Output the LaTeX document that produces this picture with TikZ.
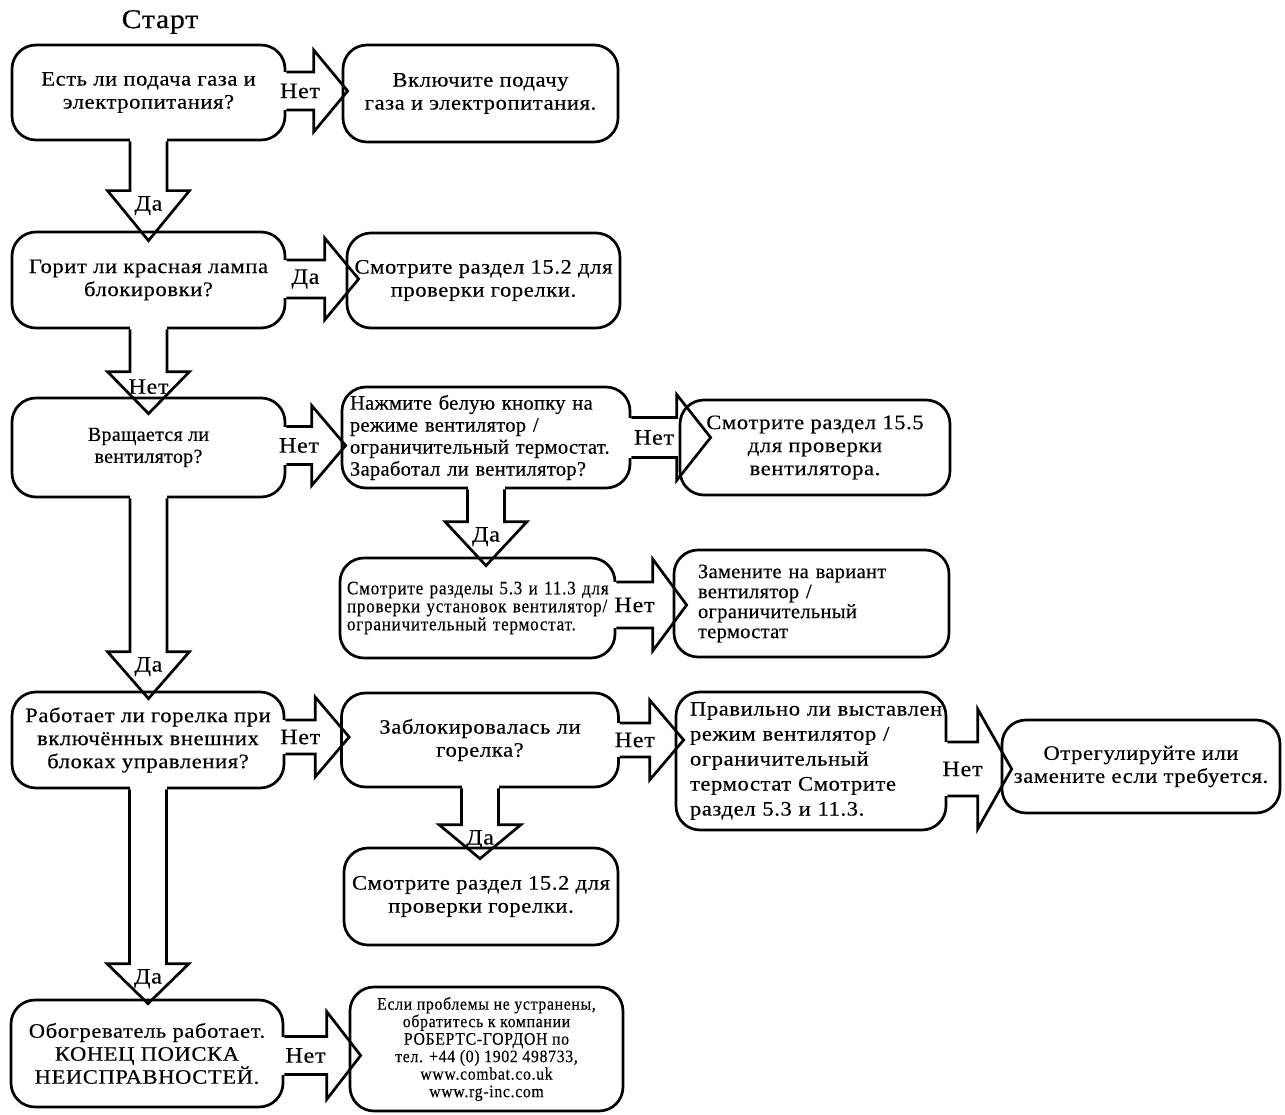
\documentclass[tikz,border=0pt]{standalone}
\usepackage{fontspec}
\setmainfont{Liberation Serif}[FakeStretch=1.1, LetterSpace=3, FakeBold=0.4]
\newfontfamily\semiser{Liberation Serif}[LetterSpace=1.5, FakeBold=0.4]
\newfontfamily\condser{Liberation Serif}[FakeStretch=0.9, LetterSpace=4, FakeBold=0.3]
\usetikzlibrary{calc}

% block arrow to the right: from, to, tip overshoot, y offset, shaft half width, head half width, label
\newcommand{\harrow}[7]{%
  \coordinate (hs) at ($(#1.east)+(0,#4)$);
  \coordinate (hx) at (#2.west |- hs);
  \coordinate (ht) at ($(hx)+(#3,0)$);
  \coordinate (hb) at ($(ht)+(-34,0)$);
  \fill[white] ($(hs)+(-3,-#5)$) rectangle ($(hb)+(0,#5)$);
  \draw[arrline] ($(hs)+(0,-#5)$) -- ($(hb)+(0,-#5)$) -- ($(hb)+(0,-#6)$) -- (ht)
    -- ($(hb)+(0,#6)$) -- ($(hb)+(0,#5)$) -- ($(hs)+(0,#5)$);
  \node[lab] at ($(hs)!0.5!(hb)$) {#7};
}
% block arrow downwards: from, to, tip overshoot, head length, label
\newcommand{\varrow}[5]{%
  \coordinate (vs) at (#1.south);
  \coordinate (vx) at (vs |- #2.north);
  \coordinate (vt) at ($(vx)+(0,#3)$);
  \coordinate (vb) at ($(vt)+(0,-#4)$);
  \fill[white] ($(vs)+(-18.5,-3)$) rectangle ($(vb)+(18.5,0)$);
  \draw[arrline] ($(vs)+(-18.5,0)$) -- ($(vb)+(-18.5,0)$) -- ($(vb)+(-41,0)$) -- (vt)
    -- ($(vb)+(41,0)$) -- ($(vb)+(18.5,0)$) -- ($(vs)+(18.5,0)$);
  \node[lab] at ($(vb)+(0,15)$) {#5};
}

\begin{document}
\begin{tikzpicture}[x=1pt, y=-1pt,
  box/.style={draw, line width=2.7pt, rounded corners=24pt, inner sep=0pt, align=center,
    font=\fontsize{20.5}{23}\selectfont},
  lbox/.style={box, align=left},
  arrline/.style={line width=2.7pt},
  lab/.style={inner sep=0pt, font=\fontsize{22}{24}\selectfont}]
  \useasboundingbox (0,0) rectangle (1285,1115);

  \node[font=\fontsize{27}{30}\selectfont] (start) at (160,22) {Старт};

  % left column
  \node[box, minimum width=273pt, minimum height=95pt] (q1) at (148.5,92.5) {Есть ли подача газа и\\электропитания?};
  \node[box, minimum width=273pt, minimum height=96pt] (q2) at (148.5,280) {Горит ли красная лампа\\блокировки?};
  \node[box, minimum width=273pt, minimum height=99pt, font=\semiser\fontsize{20}{22}\selectfont] (q3) at (148.5,447.5) {Вращается ли\\вентилятор?};
  \node[box, minimum width=272pt, minimum height=96pt] (q5) at (148,740) {Работает ли горелка при\\включённых внешних\\блоках управления?};
  \node[box, minimum width=272pt, minimum height=107pt] (q6) at (147,1053.5) {Обогреватель работает.\\КОНЕЦ ПОИСКА\\НЕИСПРАВНОСТЕЙ.};

  % middle column
  \node[box, minimum width=275pt, minimum height=97pt] (r1) at (480.5,93.5) {Включите подачу\\газа и электропитания.};
  \node[box, minimum width=273pt, minimum height=95pt] (r2) at (483.5,280.5) {Смотрите раздел 15.2 для\\проверки горелки.};
  \node[lbox, minimum width=288pt, minimum height=101pt, inner xsep=8pt, text width=272pt,
    font=\semiser\fontsize{20.5}{22}\selectfont] (m3) at (486,437.5)
    {Нажмите белую кнопку на\\режиме вентилятор /\\ограничительный термостат.\\Заработал ли вентилятор?};
  \node[lbox, minimum width=275pt, minimum height=100pt, inner xsep=7pt, text width=261pt,
    font=\condser\fontsize{19}{18}\selectfont] (m4) at (477.5,608)
    {\mbox{Смотрите разделы 5.3 и 11.3 для}\\\mbox{проверки установок вентилятор/}\\ограничительный термостат.};
  \node[box, minimum width=277pt, minimum height=94pt] (m5) at (480,740) {Заблокировалась ли\\горелка?};
  \node[box, minimum width=274pt, minimum height=97pt] (m6) at (481,896.5) {Смотрите раздел 15.2 для\\проверки горелки.};
  \node[box, minimum width=273pt, minimum height=124pt, font=\condser\fontsize{17.5}{17.5}\selectfont] (r6) at (486.5,1049)
    {Если проблемы не устранены,\\обратитесь к компании\\РОБЕРТС-ГОРДОН по\\тел. +44 (0) 1902 498733,\\www.combat.co.uk\\www.rg-inc.com};

  % right columns
  \node[box, minimum width=270pt, minimum height=95pt] (r3) at (815,447.5) {Смотрите раздел 15.5\\для проверки\\вентилятора.};
  \node[lbox, minimum width=275pt, minimum height=107pt, inner xsep=24pt, text width=227pt,
    font=\semiser\fontsize{20.5}{20}\selectfont] (r4) at (811.5,603.5)
    {Замените на вариант\\вентилятор /\\ограничительный\\термостат};
  \node[lbox, minimum width=270pt, minimum height=138pt, inner xsep=14pt, text width=242pt,
    font=\fontsize{20.5}{25}\selectfont] (r5) at (811,761)
    {\mbox{Правильно ли выставлен}\\режим вентилятор /\\ограничительный\\термостат Смотрите\\раздел 5.3 и 11.3.};
  \node[box, minimum width=278pt, minimum height=93pt] (rr5) at (1141,766.5) {Отрегулируйте или\\замените если требуется.};

  % arrows down
  \varrow{q1}{q2}{10}{50}{Да}
  \varrow{q2}{q3}{17}{42}{Нет}
  \varrow{m3}{m4}{9}{44}{Да}
  \varrow{q3}{q5}{8}{47}{Да}
  \varrow{m5}{m6}{12}{34}{Да}
  \varrow{q5}{q6}{5}{40}{Да}

  % arrows right
  \harrow{q1}{r1}{6}{-1.5}{19}{41}{Нет}
  \harrow{q2}{r2}{13}{-1}{19}{41}{Да}
  \harrow{q3}{m3}{5}{-2}{19}{40}{Нет}
  \harrow{m3}{r3}{32}{0}{20}{43}{Нет}
  \harrow{m4}{r4}{14}{-3}{23}{46}{Нет}
  \harrow{q5}{m5}{9}{-3}{17}{40}{Нет}
  \harrow{m5}{r5}{9}{0}{17}{40}{Нет}
  \harrow{r5}{rr5}{11}{8}{27}{60}{Нет}
  \harrow{q6}{r6}{12}{2}{19}{44}{Нет}
\end{tikzpicture}
\end{document}
